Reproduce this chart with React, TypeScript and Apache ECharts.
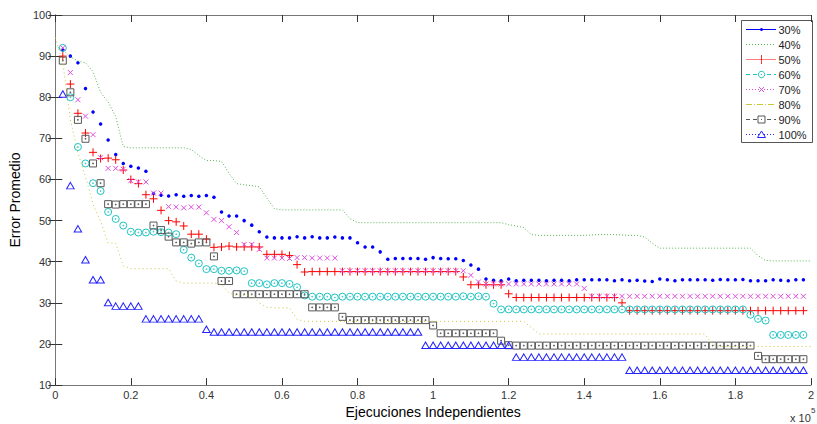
import React, { useEffect, useRef } from 'react';
import * as echarts from 'echarts';

const FONT = '"Liberation Sans", Arial, Helvetica, sans-serif';

// x is expressed in units of 10^5 independent executions; samples every 0.02
const markerX = Array.from({ length: 99 }, (_, i) => +((i + 1) * 0.02).toFixed(2));
const lineX = Array.from({ length: 101 }, (_, i) => +(i * 0.02).toFixed(2));

const seriesNames = ['30%', '40%', '50%', '60%', '70%', '80%', '90%', '100%'];

const err30 = [
  91.5, 90, 88.4, 82.1, 76.4, 73.5, 69.6, 66.1, 63.9, 63.2,
  62.8, 62, 56.6, 56.2, 56, 56.3, 55.9, 56.1, 55.9, 56.1,
  55.7, 52.1, 51.1, 51.1, 50, 48.9, 47.3, 46, 45.8, 45.8,
  45.8, 46.1, 45.8, 46.1, 45.8, 45.8, 46, 45.8, 45.8, 44.6,
  43.6, 43.6, 42.4, 40.6, 40.8, 40.8, 40.8, 40.8, 40.6, 41,
  40.8, 40.7, 40.7, 40.3, 39.2, 38.2, 35.8, 35.5, 35.4, 35.8,
  35.4, 35.5, 35.5, 35.5, 35.4, 35.5, 35.5, 35.4, 35.6, 35.6,
  35.6, 35.6, 35.6, 35.4, 35.6, 35.4, 35.5, 35.3, 35.2, 35.8,
  35.6, 35.4, 35.6, 35.6, 35.6, 35.6, 35.5, 35.7, 35.6, 35.6,
  35.7, 35.4, 35.4, 35.4, 35.6, 35.5, 35.4, 35.6, 35.6,
];

const err40 = [
  92.4, 91.5, 89.8, 88.8, 88.4, 86.2, 81.2, 78.8, 75.3, 68,
  67.7, 67.7, 67.7, 67.7, 67.7, 67.7, 67.7, 67.7, 67.3, 65.8,
  64.6, 64.6, 64.4, 61.5, 59, 58.7, 58.5, 58.2, 55.5, 52.9,
  52.6, 52.6, 52.6, 52.6, 52.6, 52.6, 52.6, 52.6, 52.6, 50.5,
  49.5, 49.5, 49.5, 49.5, 49.5, 49.5, 49.5, 49.5, 49.5, 49.5,
  49.5, 49.5, 49.5, 49.5, 49.5, 49.5, 49.5, 49.5, 49.5, 49.5,
  49, 48.7, 48.3, 46.6, 46.4, 46.4, 46.4, 46.4, 46.4, 46.4,
  46.4, 46.5, 46.6, 46.6, 46.6, 46.5, 46.4, 46.4, 46, 44.5,
  43.3, 43.3, 43.3, 43.3, 43.3, 43.3, 43.3, 43.3, 43.3, 43.3,
  43.3, 43.3, 43.3, 41.5, 40.3, 40.2, 40.2, 40.2, 40.2, 40.2,
  40.2,
];

const err50 = [
  90, 83.2, 76.1, 71.3, 66.6, 65.1, 65.2, 64.8, 62.3, 60,
  59, 56.3, 55.3, 52.5, 50, 49.7, 48.7, 46.7, 46.7, 45.5,
  43.5, 43.6, 43.8, 43.6, 43.6, 43.6, 43.6, 41.8, 41.8, 41.8,
  41.5, 39.3, 37.5, 37.6, 37.6, 37.6, 37.6, 37.6, 37.6, 37.6,
  37.6, 37.6, 37.6, 37.6, 37.6, 37.6, 37.6, 37.6, 37.6, 37.6,
  37.6, 37.6, 37.6, 36.3, 34.4, 34.4, 34.4, 34.4, 34.4, 32.2,
  31.3, 31.3, 31.3, 31.3, 31.3, 31.3, 31.3, 31.3, 31.3, 31.3,
  31.3, 31.3, 31.3, 31.3, 30, 28.1, 28.1, 28.1, 28.1, 28.1,
  28.1, 28.1, 28.1, 28.1, 28.1, 28.1, 28.1, 28.1, 28.1, 28.1,
  28.1, 28.1, 28.1, 28.1, 28.1, 28.1, 28.1, 28.1, 28.1,
];

const err60 = [
  92, 80, 67.9, 63.9, 59.1, 57.2, 52.1, 50.4, 48.8, 47.3,
  47.1, 47.1, 47.3, 47.2, 47.1, 46.7, 42.9, 41, 39.6, 38.2,
  38.2, 37.8, 37.8, 37.9, 37.7, 34.8, 34.8, 34.5, 34.8, 34.8,
  34.6, 33.8, 31.8, 31.5, 31.5, 31.5, 31.3, 31.5, 31.5, 31.5,
  31.5, 31.5, 31.5, 31.5, 31.5, 31.5, 31.5, 31.5, 31.5, 31.5,
  31.5, 31.5, 31.5, 31.6, 31.5, 31.6, 31.5, 29.8, 28.4, 28.4,
  28.4, 28.4, 28.4, 28.4, 28.4, 28.4, 28.4, 28.4, 28.4, 28.4,
  28.4, 28.4, 28.4, 28.4, 28.4, 28.4, 28.4, 28.4, 28.4, 28.4,
  28.4, 28.4, 28.4, 28.4, 28.4, 28.4, 28.4, 28.4, 28.4, 28.4,
  28.4, 27.1, 26.1, 25.7, 22.2, 22.2, 22.2, 22.2, 22.2,
];

const err70 = [
  92, 86, 79.4, 75.4, 70.9, 65.3, 62.7, 62.7, 62.5, 59.7,
  59.4, 59.4, 56.7, 56.7, 53.4, 53.3, 53.1, 53.3, 53.3, 51.9,
  50.3, 50, 48.5, 47.1, 44.2, 44.2, 43, 40.9, 40.9, 40.9,
  40.8, 41, 41, 40.9, 40.9, 40.9, 40.9, 37.8, 37.8, 37.8,
  37.8, 37.8, 37.8, 37.8, 37.8, 37.8, 37.8, 37.8, 37.8, 37.8,
  37.8, 37.8, 37.8, 37.8, 36.7, 35.1, 34.6, 34.6, 34.6, 34.6,
  34.6, 34.6, 34.6, 34.6, 34.6, 34.6, 34.6, 34.6, 34.6, 33.5,
  31.6, 31.6, 31.6, 31.6, 31.6, 31.6, 31.6, 31.6, 31.6, 31.6,
  31.6, 31.6, 31.6, 31.6, 31.6, 31.6, 31.6, 31.6, 31.6, 31.6,
  31.6, 31.6, 31.6, 31.6, 31.6, 31.6, 31.6, 31.6, 31.6,
];

const err80 = [
  94.5, 88.5, 74.5, 66.5, 60.7, 54, 49.8, 44.6, 44.5, 39,
  38.3, 38.3, 38.3, 38.3, 38.3, 38.3, 35.3, 34.8, 34.8, 34.8,
  34.8, 34.8, 34.5, 32.4, 31.9, 31.9, 31.9, 30, 28.9, 28.8,
  28.8, 28.8, 26, 25.5, 25.5, 25.5, 25.5, 25.5, 25.5, 25.5,
  25.5, 25.5, 25.5, 25.5, 25.5, 25.5, 25.5, 25.5, 25.5, 25.5,
  25.5, 25.5, 25.5, 25.5, 25.5, 25.5, 25.5, 25.5, 25.5, 25.5,
  25.5, 25.5, 25.5, 24, 22.4, 22.4, 22.4, 22.4, 22.4, 22.4,
  22.4, 22.4, 22.4, 22.4, 22.4, 22.4, 22.4, 22.4, 22.4, 22.4,
  22.4, 22.4, 22.4, 22.4, 22.4, 22.4, 22.4, 19.8, 19.4, 19.4,
  19.4, 19.4, 19.4, 19.4, 19.4, 19.4, 19.4, 19.4, 19.4, 19.4,
  19.4,
];

const err90 = [
  88.9, 81.2, 74.5, 69.9, 63.9, 59.1, 54, 53.9, 54, 54,
  54, 54, 48.8, 47.7, 46.1, 44.7, 44.7, 44.4, 44.7, 44.7,
  41.3, 35.3, 35.3, 32.1, 32.1, 32.1, 32.1, 32.1, 32.1, 32.1,
  32.1, 32.1, 32.1, 28.9, 28.9, 28.9, 28.9, 26.6, 25.8, 25.8,
  25.8, 25.8, 25.8, 25.8, 25.8, 25.8, 25.8, 25.8, 25.8, 24.5,
  22.6, 22.6, 22.6, 22.6, 22.6, 22.6, 22.6, 22.6, 20.8, 19.7,
  19.6, 19.6, 19.6, 19.6, 19.6, 19.6, 19.6, 19.6, 19.6, 19.6,
  19.6, 19.6, 19.6, 19.6, 19.6, 19.6, 19.6, 19.6, 19.6, 19.6,
  19.6, 19.6, 19.6, 19.6, 19.6, 19.6, 19.6, 19.6, 19.6, 19.6,
  19.6, 19.6, 17.1, 16.3, 16.3, 16.3, 16.3, 16.3, 16.3,
];

const err100 = [
  80.8, 58.5, 48, 40.5, 35.6, 35.6, 30.1, 29.2, 29.2, 29.2,
  29.2, 26.1, 26.1, 26.1, 26.1, 26.1, 26.1, 26.1, 26.1, 23.6,
  22.9, 22.9, 22.9, 22.9, 22.9, 22.9, 22.9, 22.9, 22.9, 22.9,
  22.9, 22.9, 22.9, 22.9, 22.9, 22.9, 22.9, 22.9, 22.9, 22.9,
  22.9, 22.9, 22.9, 22.9, 22.9, 22.9, 22.9, 22.9, 19.7, 19.7,
  19.7, 19.7, 19.7, 19.7, 19.7, 19.7, 19.7, 19.7, 19.7, 19.7,
  16.8, 16.8, 16.8, 16.8, 16.8, 16.8, 16.8, 16.8, 16.8, 16.8,
  16.8, 16.8, 16.8, 16.8, 16.8, 13.6, 13.6, 13.6, 13.6, 13.6,
  13.6, 13.6, 13.6, 13.6, 13.6, 13.6, 13.6, 13.6, 13.6, 13.6,
  13.6, 13.6, 13.6, 13.6, 13.6, 13.6, 13.6, 13.6, 13.6,
];

const COLORS = {
  c30: '#0000ff',
  c40: '#56b456',
  c50: '#ff0000',
  c60: '#1ec3c3',
  c70: '#e04ee0',
  c80: '#c8c838',
  c90: '#585858',
  c100: '#2424ff',
};

const SYM_PLUS = 'path://M5,0V10M0,5H10';
const SYM_X = 'path://M0,0L10,10M10,0L0,10';
const SYM_CIRC = 'path://M0,5A5,5 0 1,0 10,5A5,5 0 1,0 0,5Z M4.4,5A0.6,0.6 0 1,0 5.6,5A0.6,0.6 0 1,0 4.4,5Z';
const SYM_SQ = 'path://M0,0H10V10H0Z M4.4,4.4H5.6V5.6H4.4Z';
const SYM_TRI = 'path://M5,0L10,8.7L0,8.7Z';

const pairs = (xs: number[], ys: number[]) => ys.map((y, i) => [xs[i], y]);

function markerSeries(name: string, ys: number[], symbol: string, size: any, color: string, filled = false) {
  return {
    name,
    type: 'scatter',
    data: pairs(markerX, ys),
    symbol,
    symbolSize: size,
    itemStyle: filled
      ? { color, opacity: 1 }
      : { color: 'rgba(0,0,0,0)', borderColor: color, borderWidth: 1, opacity: 1 },
    silent: true,
  };
}

function dottedSeries(name: string, ys: number[], color: string, dash: any) {
  return {
    name,
    type: 'line',
    data: pairs(lineX, ys),
    showSymbol: false,
    symbol: 'none',
    lineStyle: { color, width: 1, type: dash },
    silent: true,
  };
}

function buildLegend() {
  const W = 71, H = 122;
  const children: any[] = [
    { type: 'rect', shape: { x: 0.5, y: 0.5, width: W, height: H }, style: { fill: '#fff', stroke: '#555', lineWidth: 1 } },
  ];
  const items = [
    { c: COLORS.c30, dash: null, m: 'dot' },
    { c: COLORS.c40, dash: [1, 2], m: 'none' },
    { c: COLORS.c50, dash: null, m: 'plus' },
    { c: COLORS.c60, dash: [4, 3], m: 'circ' },
    { c: COLORS.c70, dash: [1, 2], m: 'x' },
    { c: COLORS.c80, dash: [6, 2, 1, 2], m: 'none' },
    { c: COLORS.c90, dash: [4, 3], m: 'sq' },
    { c: COLORS.c100, dash: [1, 2], m: 'tri' },
  ];
  items.forEach((it, i) => {
    const y = 9 + 15 * i;
    const mx = 20.5;
    children.push({
      type: 'line',
      shape: { x1: 5, y1: y + 0.5, x2: 35, y2: y + 0.5 },
      style: { stroke: it.c, lineWidth: 1, lineDash: it.dash || undefined, opacity: it.m === 'plus' ? 0.5 : 1 },
    });
    if (it.m === 'dot') {
      children.push({ type: 'circle', shape: { cx: mx, cy: y + 0.5, r: 1.5 }, style: { fill: it.c } });
    } else if (it.m === 'plus') {
      children.push({ type: 'line', shape: { x1: mx, y1: y - 4, x2: mx, y2: y + 5 }, style: { stroke: it.c, lineWidth: 1, opacity: 0.8 } });
    } else if (it.m === 'circ') {
      children.push({ type: 'circle', shape: { cx: mx, cy: y + 0.5, r: 3.2 }, style: { fill: '#fff', stroke: it.c, lineWidth: 1 } });
      children.push({ type: 'circle', shape: { cx: mx, cy: y + 0.5, r: 0.6 }, style: { fill: it.c } });
    } else if (it.m === 'x') {
      children.push({ type: 'line', shape: { x1: mx - 2.5, y1: y - 2, x2: mx + 2.5, y2: y + 3 }, style: { stroke: it.c, lineWidth: 1 } });
      children.push({ type: 'line', shape: { x1: mx + 2.5, y1: y - 2, x2: mx - 2.5, y2: y + 3 }, style: { stroke: it.c, lineWidth: 1 } });
    } else if (it.m === 'sq') {
      children.push({ type: 'rect', shape: { x: mx - 3.5, y: y - 3, width: 7, height: 7 }, style: { fill: '#fff', stroke: it.c, lineWidth: 1 } });
      children.push({ type: 'rect', shape: { x: mx - 0.5, y: y, width: 1, height: 1 }, style: { fill: it.c } });
    } else if (it.m === 'tri') {
      children.push({ type: 'polygon', shape: { points: [[mx, y - 3], [mx + 4, y + 3.5], [mx - 4, y + 3.5]] }, style: { fill: '#fff', stroke: it.c, lineWidth: 1 } });
    }
    children.push({
      type: 'text',
      x: 37.5,
      y: y + 0.5,
      style: { text: seriesNames[i], fontSize: 11, fontFamily: FONT, fill: '#222', verticalAlign: 'middle', align: 'left' },
    });
  });
  return { type: 'group', left: 741, top: 20, children };
}

export default function App() {
  const ref = useRef<HTMLDivElement>(null);
  useEffect(() => {
    if (!ref.current) return;
    const chart = echarts.init(ref.current, undefined, { renderer: 'svg' });
    const axisLine = { show: true, lineStyle: { color: '#777', width: 1 } };
    const tick = { show: true, inside: true, length: 7, lineStyle: { color: '#333', width: 1 } };
    const option: any = {
      animation: false,
      backgroundColor: '#fff',
      textStyle: { fontFamily: FONT },
      grid: { left: 53, right: 2, top: 15, bottom: 35, containLabel: false },
      xAxis: [
        {
          type: 'value', min: 0, max: 2, interval: 0.2, position: 'bottom',
          name: 'Ejecuciones Independientes', nameLocation: 'middle', nameGap: 14,
          nameTextStyle: { fontSize: 14, color: '#000', fontFamily: FONT, verticalAlign: 'top' },
          axisLine, axisTick: tick,
          axisLabel: { fontSize: 11, color: '#333', margin: 4, fontFamily: FONT, showMinLabel: true, showMaxLabel: true },
          splitLine: { show: false },
        },
        {
          type: 'value', min: 0, max: 2, interval: 0.2, position: 'top',
          axisLine, axisTick: tick, axisLabel: { show: false }, splitLine: { show: false },
        },
      ],
      yAxis: [
        {
          type: 'value', min: 10, max: 100, interval: 10, position: 'left',
          name: 'Error Promedio', nameLocation: 'middle', nameGap: 22,
          nameTextStyle: { fontSize: 14, color: '#000', fontFamily: FONT },
          axisLine, axisTick: tick,
          axisLabel: { fontSize: 11, color: '#333', margin: 4, fontFamily: FONT },
          splitLine: { show: false },
        },
        {
          type: 'value', min: 10, max: 100, interval: 10, position: 'right',
          axisLine, axisTick: tick, axisLabel: { show: false }, splitLine: { show: false },
        },
      ],
      series: [
        markerSeries(seriesNames[0], err30, 'circle', 3.5, COLORS.c30, true),
        dottedSeries(seriesNames[1], err40, COLORS.c40, [1, 2]),
        markerSeries(seriesNames[2], err50, SYM_PLUS, 8, COLORS.c50),
        markerSeries(seriesNames[3], err60, SYM_CIRC, 7, COLORS.c60),
        markerSeries(seriesNames[4], err70, SYM_X, 5, COLORS.c70),
        dottedSeries(seriesNames[5], err80, COLORS.c80, [1, 3]),
        markerSeries(seriesNames[6], err90, SYM_SQ, 7, COLORS.c90),
        markerSeries(seriesNames[7], err100, SYM_TRI, [7.5, 6.5], COLORS.c100),
      ],
      graphic: [
        buildLegend(),
        { type: 'text', x: 790, y: 418, style: { text: 'x 10', fontSize: 11, fontFamily: FONT, fill: '#333', verticalAlign: 'middle' } },
        { type: 'text', x: 811, y: 410, style: { text: '5', fontSize: 8, fontFamily: FONT, fill: '#333', verticalAlign: 'middle' } },
      ],
    };
    chart.setOption(option);
    return () => chart.dispose();
  }, []);
  return <div ref={ref} style={{ position: 'fixed', left: 0, top: 0, width: 817, height: 424, background: '#fff' }} />;
}
